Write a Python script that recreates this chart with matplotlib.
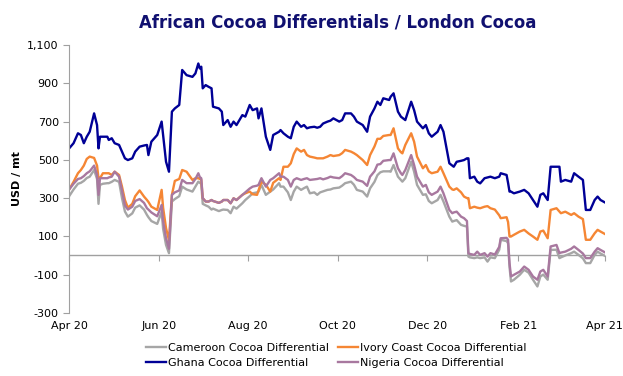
import pandas as pd
import matplotlib
matplotlib.use('Agg')
import matplotlib.pyplot as plt
import matplotlib.dates as mdates
from matplotlib.ticker import FuncFormatter

# daily differentials in USD/mt over London cocoa
dates = [
    '2020-04-01', '2020-04-04', '2020-04-07', '2020-04-09', '2020-04-11', '2020-04-13', '2020-04-15', '2020-04-18', '2020-04-20', '2020-04-21',
    '2020-04-22', '2020-04-24', '2020-04-27', '2020-04-28', '2020-04-30', '2020-05-02', '2020-05-05', '2020-05-07', '2020-05-09', '2020-05-11',
    '2020-05-14', '2020-05-16', '2020-05-19', '2020-05-22', '2020-05-24', '2020-05-25', '2020-05-27', '2020-05-31', '2020-06-03', '2020-06-04',
    '2020-06-06', '2020-06-08', '2020-06-10', '2020-06-12', '2020-06-15', '2020-06-17', '2020-06-20', '2020-06-24', '2020-06-26', '2020-06-28',
    '2020-06-29', '2020-06-30', '2020-07-01', '2020-07-03', '2020-07-05', '2020-07-07', '2020-07-08', '2020-07-12', '2020-07-14', '2020-07-15',
    '2020-07-18', '2020-07-20', '2020-07-22', '2020-07-24', '2020-07-28', '2020-07-30', '2020-08-02', '2020-08-04', '2020-08-07', '2020-08-08',
    '2020-08-10', '2020-08-13', '2020-08-16', '2020-08-18', '2020-08-22', '2020-08-23', '2020-08-25', '2020-08-28', '2020-08-30', '2020-09-01',
    '2020-09-03', '2020-09-06', '2020-09-08', '2020-09-10', '2020-09-12', '2020-09-15', '2020-09-17', '2020-09-19', '2020-09-21', '2020-09-24',
    '2020-09-26', '2020-09-28', '2020-10-02', '2020-10-04', '2020-10-06', '2020-10-10', '2020-10-12', '2020-10-14', '2020-10-18', '2020-10-21',
    '2020-10-23', '2020-10-26', '2020-10-28', '2020-10-30', '2020-11-01', '2020-11-05', '2020-11-06', '2020-11-08', '2020-11-11', '2020-11-13',
    '2020-11-14', '2020-11-16', '2020-11-20', '2020-11-22', '2020-11-24', '2020-11-28', '2020-11-30', '2020-12-02', '2020-12-04', '2020-12-08',
    '2020-12-10', '2020-12-12', '2020-12-16', '2020-12-18', '2020-12-19', '2020-12-21', '2020-12-24', '2020-12-26', '2020-12-28', '2020-12-29',
    '2020-12-30', '2021-01-02', '2021-01-04', '2021-01-06', '2021-01-09', '2021-01-11', '2021-01-13', '2021-01-16', '2021-01-19', '2021-01-20',
    '2021-01-24', '2021-01-25', '2021-01-26', '2021-01-27', '2021-01-29', '2021-02-02', '2021-02-05', '2021-02-08', '2021-02-11', '2021-02-14',
    '2021-02-16', '2021-02-18', '2021-02-21', '2021-02-23', '2021-02-27', '2021-03-01', '2021-03-02', '2021-03-05', '2021-03-09', '2021-03-11',
    '2021-03-14', '2021-03-17', '2021-03-19', '2021-03-22', '2021-03-25', '2021-03-27', '2021-03-29', '2021-04-02',
]

ghana = [
    560, 587, 639, 630, 587, 621, 647, 743, 682, 560,
    621, 621, 621, 604, 613, 587, 578, 543, 508, 499,
    508, 543, 569, 575, 578, 525, 595, 630, 700, 630,
    490, 438, 752, 769, 787, 970, 943, 934, 952, 1004,
    978, 987, 874, 891, 882, 874, 778, 769, 752, 682,
    708, 673, 700, 682, 734, 726, 787, 760, 769, 717,
    769, 621, 552, 630, 647, 656, 639, 621, 613, 673,
    700, 673, 682, 665, 670, 673, 668, 673, 690, 700,
    705, 717, 700, 708, 743, 743, 726, 700, 682, 647,
    726, 769, 804, 787, 822, 813, 830, 848, 752, 726,
    720, 708, 804, 760, 700, 665, 682, 639, 621, 647,
    682, 647, 482, 470, 464, 490, 495, 499, 508, 508,
    404, 412, 386, 377, 404, 408, 412, 404, 412, 430,
    421, 380, 334, 334, 325, 334, 343, 325, 290, 255,
    317, 325, 290, 464, 464, 464, 386, 395, 386, 430,
    412, 395, 238, 238, 290, 308, 290, 273,
]

ivory_coast = [
    345, 385, 430, 447, 470, 505, 517, 510, 470, 404,
    404, 430, 430, 430, 421, 438, 421, 360, 290, 250,
    270, 310, 340, 308, 290, 280, 255, 238, 343, 250,
    143, 80, 317, 390, 400, 447, 438, 395, 404, 404,
    400, 395, 300, 282, 282, 290, 285, 275, 282, 290,
    290, 273, 299, 290, 317, 325, 334, 320, 317, 340,
    386, 370, 334, 380, 404, 395, 464, 464, 482, 530,
    560, 543, 552, 525, 517, 512, 508, 508, 508, 517,
    525, 520, 525, 535, 552, 543, 535, 525, 499, 473,
    525, 570, 610, 610, 625, 630, 630, 665, 560, 540,
    534, 578, 639, 595, 517, 456, 473, 440, 430, 438,
    464, 430, 360, 345, 343, 351, 330, 308, 300, 300,
    247, 255, 250, 247, 255, 258, 247, 240, 210, 195,
    200, 175, 99, 99, 108, 125, 134, 115, 99, 82,
    125, 130, 90, 238, 247, 230, 221, 229, 212, 221,
    203, 190, 82, 82, 116, 134, 125, 108,
]

nigeria = [
    345, 375, 400, 404, 415, 430, 440, 470, 421, 317,
    404, 404, 404, 408, 412, 438, 412, 340, 262, 240,
    255, 285, 295, 275, 247, 240, 225, 205, 264, 180,
    90, 35, 317, 330, 340, 395, 378, 378, 400, 430,
    410, 404, 300, 282, 282, 290, 285, 275, 282, 290,
    290, 273, 299, 290, 317, 330, 350, 360, 365, 369,
    404, 360, 395, 404, 430, 412, 412, 395, 360, 395,
    404, 395, 400, 404, 395, 398, 400, 404, 398, 405,
    412, 408, 404, 415, 430, 421, 410, 395, 386, 364,
    412, 440, 475, 478, 495, 499, 499, 534, 456, 430,
    421, 447, 525, 473, 412, 360, 369, 330, 317, 334,
    360, 325, 238, 221, 225, 229, 203, 195, 180, 12,
    8, 3, 20, 3, 12, -6, 12, 5, 45, 90,
    92, 82, -40, -110, -101, -84, -58, -75, -110, -127,
    -84, -75, -110, 47, 55, 12, 15, 20, 35, 47,
    29, 10, -14, -14, 20, 38, 29, 12,
]

cameroon = [
    310, 345, 375, 380, 390, 405, 412, 447, 400, 270,
    369, 375, 378, 378, 385, 395, 385, 300, 230, 203,
    220, 250, 262, 240, 212, 200, 180, 165, 229, 140,
    55, 12, 282, 295, 310, 360, 345, 334, 360, 386,
    380, 375, 270, 262, 255, 240, 245, 232, 238, 240,
    238, 221, 255, 245, 273, 290, 310, 325, 330, 334,
    369, 317, 334, 345, 378, 360, 360, 330, 290, 334,
    360, 343, 352, 360, 325, 330, 317, 330, 335, 343,
    345, 351, 355, 365, 378, 386, 370, 343, 334, 308,
    351, 385, 420, 435, 440, 440, 438, 473, 412, 395,
    386, 404, 490, 438, 369, 317, 320, 285, 273, 290,
    317, 282, 203, 177, 180, 185, 160, 155, 151, -6,
    -10, -14, -10, -14, -10, -32, -10, -14, 30, 82,
    75, 64, -60, -136, -127, -101, -75, -90, -127, -162,
    -110, -100, -127, 29, 30, -14, -10, 0, 12, 20,
    3, -15, -40, -40, 3, 20, 10, -6,
]

df = pd.DataFrame({
    'Cameroon Cocoa Differential': cameroon,
    'Ivory Coast Cocoa Differential': ivory_coast,
    'Ghana Cocoa Differential': ghana,
    'Nigeria Cocoa Differential': nigeria,
}, index=pd.to_datetime(dates))

colors = {
    'Cameroon Cocoa Differential': '#a6a6a6',
    'Ivory Coast Cocoa Differential': '#f58634',
    'Ghana Cocoa Differential': '#000096',
    'Nigeria Cocoa Differential': '#a8789f',
}

fig = plt.figure(figsize=(6.23, 3.76), dpi=100)
ax = fig.add_axes([0.111, 0.168, 0.86, 0.712])

lines = {}
for name in df.columns:
    lines[name], = ax.plot(df.index, df[name], color=colors[name], lw=1.7, label=name)

ax.set_ylim(-300, 1100)
ax.set_yticks(range(-300, 1101, 200))
ax.yaxis.set_major_formatter(FuncFormatter(lambda v, p: f'{int(v):,}'))
ax.set_xlim(pd.Timestamp('2020-04-01'), pd.Timestamp('2021-04-01'))
ax.xaxis.set_major_locator(mdates.MonthLocator(bymonth=[2, 4, 6, 8, 10, 12]))
ax.xaxis.set_major_formatter(mdates.DateFormatter('%b %y'))

grey = '#a0a0a0'
for s in ['top', 'right', 'bottom']:
    ax.spines[s].set_visible(False)
ax.spines['left'].set_color(grey)
ax.tick_params(axis='y', colors=grey, labelcolor='black', labelsize=8, length=4, width=0.8)
ax.tick_params(axis='x', length=0, labelsize=8, pad=6)

# zero line with the month ticks on it
ax.axhline(0, color=grey, lw=1.0, zorder=0)
zero_axis = ax.secondary_xaxis(300 / 1400)
zero_axis.spines['bottom'].set_visible(False)
zero_axis.xaxis.set_major_locator(mdates.MonthLocator(bymonth=[2, 4, 6, 8, 10, 12]))
zero_axis.tick_params(axis='x', colors=grey, length=4, width=0.8, labelbottom=False)

ax.set_ylabel('USD / mt', fontsize=8, fontweight='bold', labelpad=4)
fig.text(0.542, 0.94, 'African Cocoa Differentials / London Cocoa', ha='center', va='center',
         fontsize=11.9, fontweight='bold', color='#101070')

order = ['Cameroon Cocoa Differential', 'Ghana Cocoa Differential',
         'Ivory Coast Cocoa Differential', 'Nigeria Cocoa Differential']
fig.legend([lines[n] for n in order], order, loc='lower center', ncol=2,
           bbox_to_anchor=(0.54, -0.005), frameon=False, fontsize=8,
           handlelength=1.8, handletextpad=0.2, columnspacing=0.8, labelspacing=0.45)

fig.savefig('out.png', dpi=100)
